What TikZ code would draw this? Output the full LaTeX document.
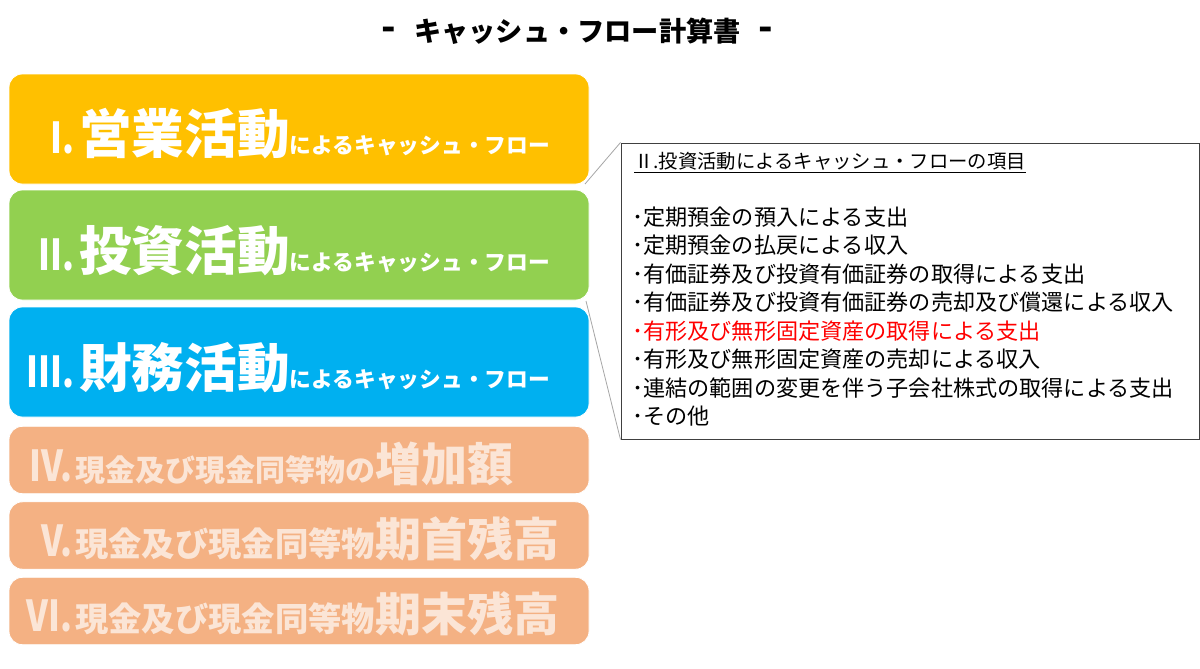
\documentclass[tikz,border=0pt]{standalone}
\usepackage{fontspec}
\setmainfont{Noto Sans CJK JP}
\definecolor{cfyel}{HTML}{FFC000}
\definecolor{cfgrn}{HTML}{92D050}
\definecolor{cfblu}{HTML}{00B0F0}
\definecolor{cfsal}{HTML}{F4B183}
\definecolor{cfpale}{HTML}{FBE5D6}
\definecolor{cfred}{HTML}{FF0000}
\newcommand{\cfnum}[1]{\scalebox{0.8}[1]{#1}}
\begin{document}
\begin{tikzpicture}[x=0.75pt,y=-0.75pt,
  cfbox/.style={rounded corners=10pt, draw=white, line width=0.6pt, inner sep=0pt, minimum width=435pt},
  bigbox/.style={cfbox, minimum height=82.5pt},
  smallbox/.style={cfbox, fill=cfsal, minimum height=50.5pt},
  numtxt/.style={anchor=base east, inner sep=0pt, font=\bfseries\fontsize{32}{32}\selectfont},
  maintxt/.style={anchor=base west, inner sep=0pt},
  listtxt/.style={anchor=west, inner sep=0pt, font=\fontsize{16.6}{17}\selectfont},
  titletxt/.style={inner sep=0pt, font=\bfseries\fontsize{20.4}{21}\selectfont},
  callout/.style={draw=black!35, line width=0.6pt}]
\useasboundingbox (0,0) rectangle (1200,668);
\fill[white] (0,0) rectangle (1200,668);

% title
\node[titletxt] (tl) at (389,34) {\scalebox{1.4}[1.4]{-}};
\node[titletxt, anchor=west] (title) at (414,31) {キャッシュ・フロー計算書};
\node[titletxt] (tr) at (766,34) {\scalebox{1.4}[1.4]{-}};

% boxes
\node[bigbox, fill=cfyel] (b1) at (299,129) {};
\node[bigbox, fill=cfgrn] (b2) at (299,245) {};
\node[bigbox, fill=cfblu] (b3) at (299,362) {};
\node[smallbox] (b4) at (299,460) {};
\node[smallbox] (b5) at (299,535.5) {};
\node[smallbox] (b6) at (299,611) {};

% box texts
\node[numtxt, text=white] (n1) at (75,153) {\cfnum{I.}};
\node[maintxt, text=white] (m1) at (79,153) {{\bfseries\fontsize{39.5}{40}\selectfont 営業活動}{\bfseries\fontsize{16.3}{16}\selectfont によるキャッシュ・フロー}};
\node[numtxt, text=white] (n2) at (75,270) {\cfnum{II.}};
\node[maintxt, text=white] (m2) at (79,270) {{\bfseries\fontsize{39.5}{40}\selectfont 投資活動}{\bfseries\fontsize{16.3}{16}\selectfont によるキャッシュ・フロー}};
\node[numtxt, text=white] (n3) at (75,387) {\cfnum{III.}};
\node[maintxt, text=white] (m3) at (79,387) {{\bfseries\fontsize{39.5}{40}\selectfont 財務活動}{\bfseries\fontsize{16.3}{16}\selectfont によるキャッシュ・フロー}};
\node[numtxt, text=cfpale] (n4) at (73,481) {\cfnum{IV.}};
\node[maintxt, text=cfpale] (m4) at (75,481) {{\bfseries\fontsize{22.5}{23}\selectfont 現金及び現金同等物の}{\bfseries\fontsize{34.5}{35}\selectfont 増加額}};
\node[numtxt, text=cfpale] (n5) at (73,556) {\cfnum{V.}};
\node[maintxt, text=cfpale] (m5) at (75,556) {{\bfseries\fontsize{25}{25}\selectfont 現金及び現金同等物}{\bfseries\fontsize{34.5}{35}\selectfont 期首残高}};
\node[numtxt, text=cfpale] (n6) at (73,631) {\cfnum{VI.}};
\node[maintxt, text=cfpale] (m6) at (75,631) {{\bfseries\fontsize{25}{25}\selectfont 現金及び現金同等物}{\bfseries\fontsize{34.5}{35}\selectfont 期末残高}};

% detail box
\node[draw=black!75, line width=0.75pt, minimum width=433.5pt, minimum height=222pt, inner sep=0pt] (d) at (910,291) {};
\coordinate (c1) at (585,184);
\coordinate (c2) at (586,301);
\draw[callout] (c1) -- (d.north west);
\draw[callout] (c2) -- (d.south west);

\node[anchor=west, inner sep=0pt, font=\fontsize{14.5}{15}\selectfont] (h) at (634,163) {\underline{Ⅱ.投資活動によるキャッシュ・フローの項目}};
\node[listtxt] (l1) at (632,217) {･定期預金の預入による支出};
\node[listtxt] (l2) at (632,245.5) {･定期預金の払戻による収入};
\node[listtxt] (l3) at (632,274) {･有価証券及び投資有価証券の取得による支出};
\node[listtxt] (l4) at (632,302.5) {･有価証券及び投資有価証券の売却及び償還による収入};
\node[listtxt, text=cfred] (l5) at (632,331) {･有形及び無形固定資産の取得による支出};
\node[listtxt] (l6) at (632,359.5) {･有形及び無形固定資産の売却による収入};
\node[listtxt] (l7) at (632,388) {･連結の範囲の変更を伴う子会社株式の取得による支出};
\node[listtxt] (l8) at (632,416.5) {･その他};
\end{tikzpicture}
\end{document}
